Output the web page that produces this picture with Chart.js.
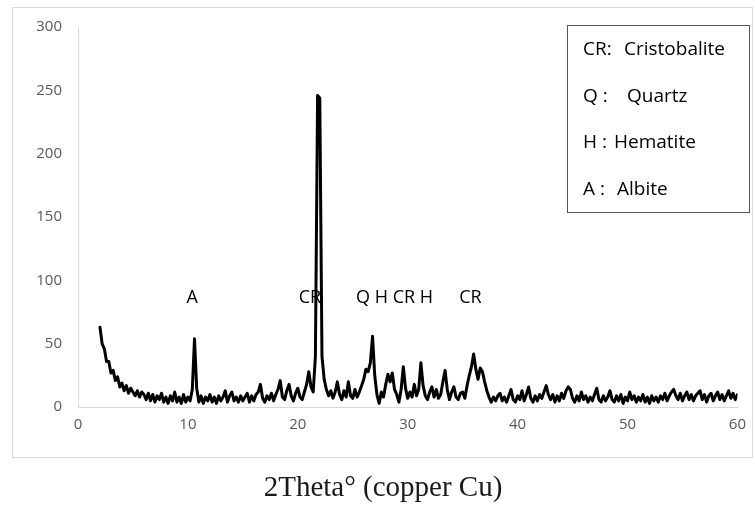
<!DOCTYPE html>
<html>
<head>
<meta charset="utf-8">
<script src="https://cdn.jsdelivr.net/npm/chart.js@4/dist/chart.umd.min.js"></script>
<style>
  html, body { margin: 0; padding: 0; background: #ffffff; }
  #wrap { width: 755px; height: 511px; position: relative; }
</style>
</head>
<body>
<div id="wrap"><canvas id="c" width="755" height="511"></canvas></div>
<script>
// ---- Data ----
const xStart = 2.0;      // first 2Theta value
const xStep = 0.2;       // sampling step in degrees
// Intensity, one row per degree: values at x.0, x.2, x.4, x.6, x.8
const intensity = [
  63, 50, 46, 36, 36,   // 2
  27, 29, 21, 24, 16,   // 3
  19, 13, 17, 11, 15,   // 4
  12, 9, 13, 8, 12,     // 5
  10, 6, 11, 5, 10,     // 6
  4, 9, 6, 11, 4,       // 7
  8, 3, 9, 5, 12,       // 8
  4, 8, 3, 10, 4,       // 9
  8, 5, 14, 54, 15,     // 10
  4, 9, 3, 8, 5,        // 11
  10, 4, 8, 3, 9,       // 12
  5, 8, 13, 4, 9,       // 13
  12, 5, 8, 4, 9,       // 14
  5, 8, 11, 4, 9,       // 15
  5, 10, 12, 18, 7,     // 16
  4, 9, 6, 11, 5,       // 17
  10, 14, 21, 8, 6,     // 18
  13, 18, 9, 5, 11,     // 19
  15, 8, 6, 12, 18,     // 20
  28, 16, 12, 40, 246,  // 21
  244, 40, 22, 14, 9,   // 22
  13, 7, 12, 20, 10,    // 23
  6, 13, 8, 20, 9,      // 24
  7, 14, 8, 12, 17,     // 25
  22, 30, 28, 35, 56,   // 26
  25, 10, 3, 12, 8,     // 27
  18, 26, 20, 27, 14,   // 28
  10, 4, 14, 32, 15,    // 29
  7, 12, 8, 18, 9,      // 30
  14, 35, 17, 9, 6,     // 31
  12, 16, 8, 14, 7,     // 32
  10, 20, 29, 14, 6,    // 33
  12, 16, 8, 6, 11,     // 34
  12, 7, 17, 25, 32,    // 35
  42, 30, 22, 31, 28,   // 36
  20, 13, 8, 4, 8,      // 37
  5, 9, 11, 5, 8,       // 38
  4, 9, 14, 6, 4,       // 39
  9, 6, 13, 5, 10,      // 40
  16, 7, 4, 9, 5,       // 41
  10, 7, 12, 17, 10,    // 42
  6, 10, 4, 9, 5,       // 43
  11, 7, 13, 16, 14,    // 44
  7, 4, 9, 5, 12,       // 45
  6, 9, 4, 8, 5,        // 46
  10, 15, 6, 4, 9,      // 47
  5, 8, 13, 6, 4,       // 48
  9, 5, 10, 3, 8,       // 49
  5, 12, 6, 9, 4,       // 50
  8, 5, 10, 4, 8,       // 51
  3, 9, 5, 8, 4,        // 52
  9, 6, 11, 5, 9,       // 53
  12, 14, 9, 6, 11,     // 54
  5, 9, 12, 6, 10,      // 55
  5, 9, 11, 13, 6,      // 56
  10, 4, 9, 11, 5,      // 57
  9, 12, 6, 10, 5,      // 58
  9, 13, 7, 11, 6,      // 59
  10                    // 60
];
const xTicks = [0, 10, 20, 30, 40, 50, 60];
const yTicks = [0, 50, 100, 150, 200, 250, 300];
const peakLabels = ['A', 'CR', 'Q H CR H', 'CR'];
const peakLabelX = [10.4, 21.1, 28.8, 35.7];
const peakLabelY = [86, 86, 86, 86];
const legendCodes = ['CR:', 'Q :', 'H :', 'A :'];
const legendNames = ['Cristobalite', 'Quartz', 'Hematite', 'Albite'];
const xTitle = '2Theta\u00B0 (copper Cu)';

// ---- Build points ----
const points = intensity.map((v, i) => ({ x: +(xStart + i * xStep).toFixed(2), y: v }));

const LEGEND_NAME_X = [624, 627, 614, 617];
const LEGEND_ROW_Y = [50, 97, 143, 190];

const decor = {
  id: 'decor',
  beforeDraw(chart) {
    const ctx = chart.ctx;
    ctx.save();
    ctx.strokeStyle = '#d9d9d9';
    ctx.lineWidth = 1;
    ctx.strokeRect(12.5, 7.5, 740, 450);
    ctx.restore();
  },
  afterDraw(chart) {
    const ctx = chart.ctx;
    const xs = chart.scales.x, ys = chart.scales.y;
    ctx.save();
    // peak labels
    ctx.fillStyle = '#000';
    ctx.font = '18px "Open Sans"';
    ctx.textAlign = 'center';
    ctx.textBaseline = 'middle';
    peakLabels.forEach((t, i) => {
      ctx.fillText(t, xs.getPixelForValue(peakLabelX[i]), ys.getPixelForValue(peakLabelY[i]));
    });
    // legend box
    ctx.fillStyle = '#fff';
    ctx.fillRect(567, 25, 182, 187);
    ctx.strokeStyle = '#555';
    ctx.lineWidth = 1;
    ctx.strokeRect(567.5, 25.5, 182, 187);
    ctx.fillStyle = '#000';
    ctx.textAlign = 'left';
    ctx.font = '19px "Open Sans"';
    legendCodes.forEach((c, i) => {
      ctx.fillText(c, 583, LEGEND_ROW_Y[i]);
      ctx.fillText(legendNames[i], LEGEND_NAME_X[i], LEGEND_ROW_Y[i]);
    });
    ctx.restore();
  }
};

new Chart(document.getElementById('c'), {
  type: 'line',
  data: {
    datasets: [{
      data: points,
      borderColor: '#000',
      borderWidth: 3,
      borderJoinStyle: 'round',
      borderCapStyle: 'round',
      pointRadius: 0,
      tension: 0,
      fill: false
    }]
  },
  options: {
    responsive: false,
    animation: false,
    layout: { padding: { left: 28, right: 17, top: 27, bottom: 0 } },
    plugins: {
      legend: { display: false },
      tooltip: { enabled: false },
      title: {
        display: true,
        position: 'bottom',
        text: xTitle,
        color: '#1a1a1a',
        font: { family: '"Liberation Serif", "Times New Roman", serif', size: 29, weight: 'normal' },
        padding: { top: 11, bottom: 5 }
      }
    },
    scales: {
      x: {
        type: 'linear',
        min: 0, max: 60,
        afterBuildTicks: s => { s.ticks = xTicks.map(v => ({ value: v })); },
        afterFit: s => { s.height = 53; },
        grid: { display: false, drawTicks: false },
        border: { display: true, color: '#d9d9d9', width: 1 },
        ticks: { color: '#595959', font: { family: '"Open Sans"', size: 15 }, padding: 9, maxRotation: 0 }
      },
      y: {
        min: 0, max: 300,
        afterBuildTicks: s => { s.ticks = yTicks.map(v => ({ value: v })); },
        afterFit: s => { s.width = 50; },
        grid: { display: false, drawTicks: false },
        border: { display: true, color: '#d9d9d9', width: 1 },
        ticks: { color: '#595959', font: { family: '"Open Sans"', size: 15 }, padding: 16 }
      }
    }
  },
  plugins: [decor]
});
</script>
</body>
</html>
